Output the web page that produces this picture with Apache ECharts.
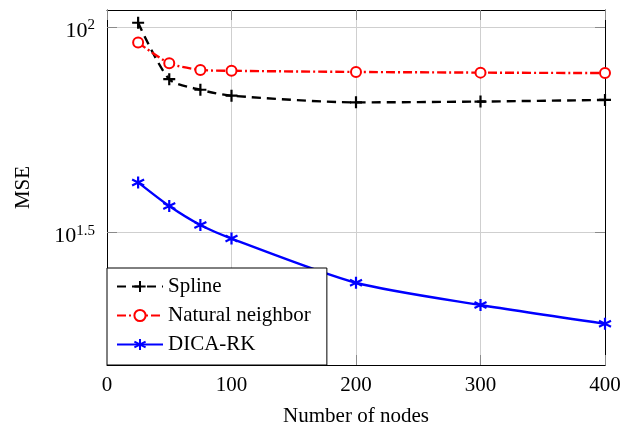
<!DOCTYPE html>
<html>
<head>
<meta charset="utf-8">
<script src="https://cdn.jsdelivr.net/npm/echarts@6/dist/echarts.min.js"></script>
<style>
  html, body { margin: 0; padding: 0; background: #ffffff; }
  #chart { width: 631px; height: 424px; }
</style>
</head>
<body>
<div id="chart"></div>
<script>
// Mean squared error against the number of nodes for three interpolation methods
const nodes = [25, 50, 75, 100, 200, 300, 400];
const splineMSE = [102.4, 74.6, 70.3, 68.0, 65.5, 65.8, 66.4];
const naturalNeighborMSE = [91.6, 81.6, 78.6, 78.2, 77.7, 77.4, 77.2];
const dicaRkMSE = [41.8, 36.6, 32.9, 30.5, 23.8, 21.0, 18.9];

const seriesNames = ['Spline', 'Natural neighbor', 'DICA-RK'];
const yTickExponents = [1.5, 2];
const yTickValues = yTickExponents.map(e => Math.pow(10, e));

const FONT = '"Liberation Serif", "DejaVu Serif", serif';
const GRID_COLOR = '#cfcfcf';
const TICK_COLOR = '#8a8a8a';

function pairs(values) {
  return nodes.map((n, i) => [n, values[i]]);
}

// Label "10^e" with the exponent raised
function powerLabel(v) {
  const e = Math.log10(v);
  const r = Math.round(e * 2) / 2;
  if (Math.abs(e - r) > 1e-6) return '';
  return '{b|10}{s|' + String(r) + '}';
}

const plusSymbol = 'path://M0,-1L0,1M-1,0L1,0';
const starSymbol = 'path://M0,-1L0,1M-0.866,-0.5L0.866,0.5M-0.866,0.5L0.866,-0.5';

const chart = echarts.init(document.getElementById('chart'), null, { renderer: 'canvas' });

const option = {
  animation: false,
  backgroundColor: '#ffffff',
  textStyle: { fontFamily: FONT },
  grid: { left: 107, right: 26, top: 10, bottom: 59, containLabel: false, outerBoundsMode: 'none' },
  xAxis: [
    {
      type: 'value',
      position: 'bottom',
      min: 0,
      max: 400,
      interval: 100,
      name: 'Number of nodes',
      nameLocation: 'middle',
      nameGap: 41,
      nameTextStyle: { fontFamily: FONT, fontSize: 21, color: '#000' },
      axisLine: { show: true, onZero: false, lineStyle: { color: '#000', width: 1 } },
      axisTick: { show: true, inside: true, length: 10, lineStyle: { color: TICK_COLOR, width: 1 } },
      axisLabel: { fontFamily: FONT, fontSize: 21, color: '#000', margin: 10 },
      splitLine: { show: true, lineStyle: { color: GRID_COLOR, width: 1 } }
    },
    {
      type: 'value',
      position: 'top',
      min: 0,
      max: 400,
      interval: 100,
      axisLine: { show: true, onZero: false, lineStyle: { color: '#000', width: 1 } },
      axisTick: { show: true, inside: true, length: 10, lineStyle: { color: TICK_COLOR, width: 1 } },
      axisLabel: { show: false },
      splitLine: { show: false }
    }
  ],
  yAxis: [
    {
      type: 'log',
      logBase: 10,
      position: 'left',
      min: 15,
      max: 110,
      name: 'MSE',
      nameLocation: 'middle',
      nameRotate: 90,
      nameGap: 73,
      nameTextStyle: { fontFamily: FONT, fontSize: 21, color: '#000' },
      axisLine: { show: true, onZero: false, lineStyle: { color: '#000', width: 1 } },
      axisTick: { show: true, inside: true, length: 10, customValues: yTickValues, lineStyle: { color: TICK_COLOR, width: 1 } },
      axisLabel: {
        margin: 12,
        padding: [6, 0, 0, 0],
        customValues: yTickValues,
        formatter: powerLabel,
        rich: {
          b: { fontFamily: FONT, fontSize: 22, color: '#000', lineHeight: 22, padding: [12, 0, 0, 0], verticalAlign: 'bottom' },
          s: { fontFamily: FONT, fontSize: 15, color: '#000', lineHeight: 24, verticalAlign: 'top' }
        }
      },
      minorTick: { show: false },
      splitLine: { show: true, lineStyle: { color: GRID_COLOR, width: 1 } }
    },
    {
      type: 'log',
      logBase: 10,
      position: 'right',
      min: 15,
      max: 110,
      axisLine: { show: true, onZero: false, lineStyle: { color: '#000', width: 1 } },
      axisTick: { show: true, inside: true, length: 10, customValues: yTickValues, lineStyle: { color: TICK_COLOR, width: 1 } },
      axisLabel: { show: false },
      splitLine: { show: false }
    }
  ],
  legend: {
    show: true,
    orient: 'vertical',
    left: 107,
    bottom: 59,
    data: seriesNames,
    backgroundColor: '#ffffff',
    borderColor: '#000',
    borderWidth: 1,
    borderRadius: 0,
    padding: [8, 16, 10, 9],
    itemWidth: 46,
    itemHeight: 14,
    itemGap: 8,
    textStyle: { fontFamily: FONT, fontSize: 21, color: '#000' },
    selectedMode: false
  },
  series: [
    {
      name: seriesNames[0],
      type: 'line',
      data: pairs(splineMSE),
      smooth: 0.25,
      symbol: plusSymbol,
      symbolSize: 12,
      showAllSymbol: true,
      lineStyle: { color: '#000', width: 2.4, type: [9, 6] },
      itemStyle: { color: '#000', borderColor: '#000', borderWidth: 2.2 },
      z: 3
    },
    {
      name: seriesNames[1],
      type: 'line',
      data: pairs(naturalNeighborMSE),
      smooth: 0.25,
      symbol: 'emptyCircle',
      symbolSize: 10,
      showAllSymbol: true,
      lineStyle: { color: '#ff0000', width: 2.4, type: [9, 3, 2, 3] },
      itemStyle: { color: '#ff0000', borderColor: '#ff0000', borderWidth: 2.2 },
      z: 3
    },
    {
      name: seriesNames[2],
      type: 'line',
      data: pairs(dicaRkMSE),
      smooth: 0.25,
      symbol: starSymbol,
      symbolSize: 12,
      showAllSymbol: true,
      lineStyle: { color: '#0000ff', width: 2.4, type: 'solid' },
      itemStyle: { color: '#0000ff', borderColor: '#0000ff', borderWidth: 2.2 },
      z: 3
    }
  ]
};

chart.setOption(option);
</script>
</body>
</html>
